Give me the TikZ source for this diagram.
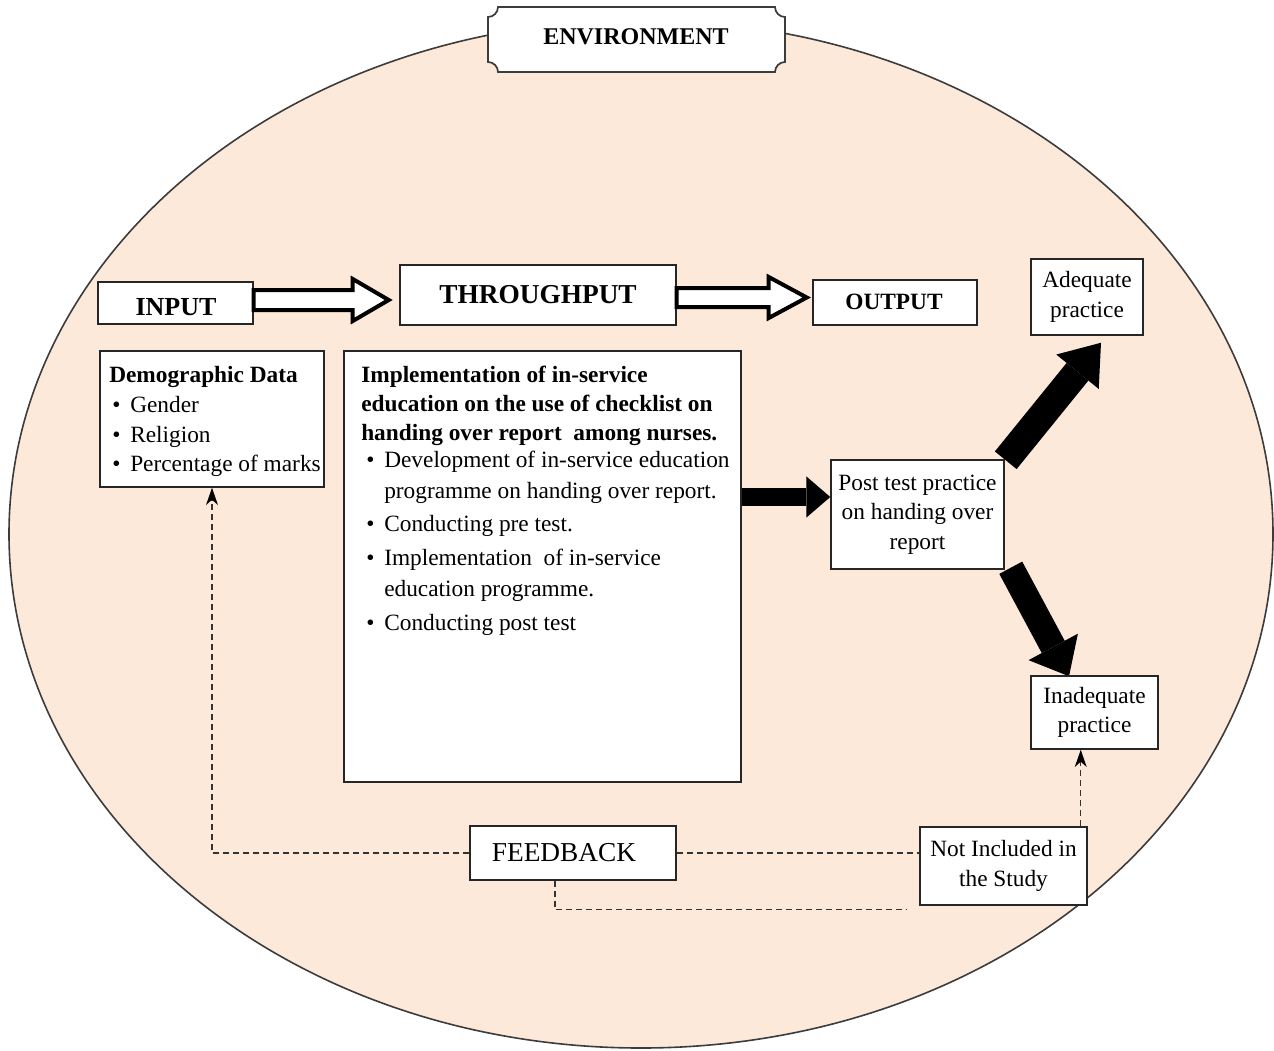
\documentclass[tikz,border=0pt]{standalone}
\usepackage{fontspec}
\setmainfont{Liberation Serif}
\usetikzlibrary{arrows.meta,fit,calc}
\definecolor{envfill}{RGB}{253,233,217}
\definecolor{edgegray}{RGB}{60,60,60}
\pgfdeclarelayer{back}
\pgfsetlayers{back,main}
\begin{document}
\begin{tikzpicture}[x=0.75pt,y=-0.75pt,
  box/.style={draw=black!85, line width=1.1pt, fill=white, inner sep=0pt},
  txt/.style={font=\fontsize{17.5}{22}\selectfont, inner sep=0pt, anchor=base west},
  ctxt/.style={font=\fontsize{17.5}{22}\selectfont, inner sep=0pt, align=center},
  dsh/.style={draw=black!80, line width=0.8pt, dash pattern=on 4.5pt off 3pt},
  hol/.style={draw=black, line width=3pt, fill=white, line join=miter},
  blk/.style={draw=black, line cap=butt},
  dtip/.style={-{Stealth[length=13pt,width=9pt,inset=4pt,line width=0pt,fill=black,color=black]}}]
\useasboundingbox (0,0) rectangle (1274,1050);
\begin{pgfonlayer}{back}
\fill[white] (0,0) rectangle (1274,1050);
\draw[fill=envfill, draw=edgegray, line width=1.2pt] (641,534) ellipse [x radius=632, y radius=514];
\end{pgfonlayer}

% environment plaque
\draw[fill=white, draw=edgegray, line width=1.3pt]
  (498,7) -- (775,7) .. controls (775,12.5) and (779.5,17) .. (785,17)
  -- (785,62) .. controls (779.5,62) and (775,66.5) .. (775,72)
  -- (498,72) .. controls (498,66.5) and (493.5,62) .. (488,62)
  -- (488,17) .. controls (493.5,17) and (498,12.5) .. (498,7) -- cycle;
\node[inner sep=0pt, font=\fontsize{18}{22}\selectfont\bfseries] (env) at (636,37) {ENVIRONMENT};

% top row boxes
\node[box, fit={(98,282) (253,324)}] (input) {};
\node[inner sep=0pt, font=\fontsize{19.5}{22}\selectfont\bfseries] (inputt) at (176,307) {INPUT};
\node[box, fit={(400,265) (676,325)}] (thr) {};
\node[inner sep=0pt, font=\fontsize{20.5}{22}\selectfont\bfseries] (thrt) at (538,295) {THROUGHPUT};
\node[box, fit={(813,280) (977,325)}] (out) {};
\node[inner sep=0pt, font=\fontsize{17.5}{22}\selectfont\bfseries] (outt) at (894,302) {OUTPUT};
\node[box, fit={(1031,259) (1143,335)}] (adeq) {};
\node[ctxt] (adeqt) at (adeq.center) {Adequate\\practice};

% demographic box
\node[box, fit={(100,351) (324,487)}] (demo) {};
\node[txt, font=\fontsize{17.5}{22}\selectfont\bfseries] (demoh) at (109,382) {Demographic Data};
\node[txt] (db1) at (112,412) {\textbullet};
\node[txt] (d1) at (130,412) {Gender};
\node[txt] (db2) at (112,442) {\textbullet};
\node[txt] (d2) at (130,442) {Religion};
\node[txt] (db3) at (112,471) {\textbullet};
\node[txt] (d3) at (130,471) {Percentage of marks};

% implementation box
\node[box, fit={(344,351) (741,782)}] (impl) {};
\node[txt, font=\fontsize{17.5}{22}\selectfont\bfseries] (h1) at (361,382) {Implementation of in-service};
\node[txt, font=\fontsize{17.5}{22}\selectfont\bfseries] (h2) at (361,411) {education on the use of checklist on};
\node[txt, font=\fontsize{17.5}{22}\selectfont\bfseries] (h3) at (361,440) {handing over report\ \ among nurses.};
\node[txt] (ib1) at (366,467) {\textbullet};
\node[txt] (i1) at (384,467) {Development of in-service education};
\node[txt] (i1b) at (384,498) {programme on handing over report.};
\node[txt] (ib2) at (366,531) {\textbullet};
\node[txt] (i2) at (384,531) {Conducting pre test.};
\node[txt] (ib3) at (366,565) {\textbullet};
\node[txt] (i3) at (384,565) {Implementation\ \ of in-service};
\node[txt] (i3b) at (384,596) {education programme.};
\node[txt] (ib4) at (366,630) {\textbullet};
\node[txt] (i4) at (384,630) {Conducting post test};

% right side boxes
\node[box, fit={(831,460) (1004,569)}] (post) {};
\node[ctxt] (postt) at (post.center) {Post test practice\\on handing over\\report};
\node[box, fit={(1031,676) (1158,749)}] (inad) {};
\node[ctxt] (inadt) at (inad.center) {Inadequate\\practice};

% bottom boxes
\node[box, fit={(470,826) (676,880)}] (fb) {};
\node[inner sep=0pt, font=\fontsize{20.5}{22}\selectfont] (fbt) at (564,853) {FEEDBACK};
\node[box, fit={(920,827) (1087,905)}] (notinc) {};
\node[ctxt] (notinct) at (notinc.center) {Not Included in\\the Study};

% hollow arrows
\draw[hol] ($(input.east)+(0,-13)$) -- ++(99,0) -- ++(0,-11) -- ++(36,21) -- ++(-36,21) -- ++(0,-11) -- ++(-99,0) -- cycle;
\draw[hol] ($(thr.east)+(0,-7)$) -- ++(92,0) -- ++(0,-11) -- ++(38,20.5) -- ++(-38,20.5) -- ++(0,-11) -- ++(-92,0) -- cycle;

% solid black arrows (behind boxes)
\begin{pgfonlayer}{back}
\draw[blk, line width=14pt, -{Triangle[length=18pt,width=31pt,line width=0pt]}]
  ($(impl.east)+(0,-69.5)$) -- ($(post.west)+(0,-17.5)$);
\draw[blk, line width=21pt, -{Triangle[length=28pt,width=41pt,line width=0pt]}]
  ($(post.north east)+(1,1)$) -- ($(adeq.south)+(14,7)$);
\draw[blk, line width=19.5pt, -{Triangle[length=25pt,width=42pt,line width=0pt]}]
  ($(post.south east)+(6,-2)$) -- ($(inad.north)+(-25.5,1)$);
\end{pgfonlayer}

% feedback dashed connectors
\draw[dsh, dtip] (fb.west) -| (demo.south);
\draw[dsh] (fb.east) -- (fb.east -| notinc.west);
\coordinate (fbs) at ($(fb.south)+(-18,0)$);
\coordinate (fbend) at ($(notinc.south west)+(-12,4)$);
\draw[dsh] (fbs) |- (fbend);
\coordinate (nq) at ($(notinc.north east)+(-7,0)$);
\draw[dsh, dtip] (nq) -- (nq |- inad.south);
\end{tikzpicture}
\end{document}
